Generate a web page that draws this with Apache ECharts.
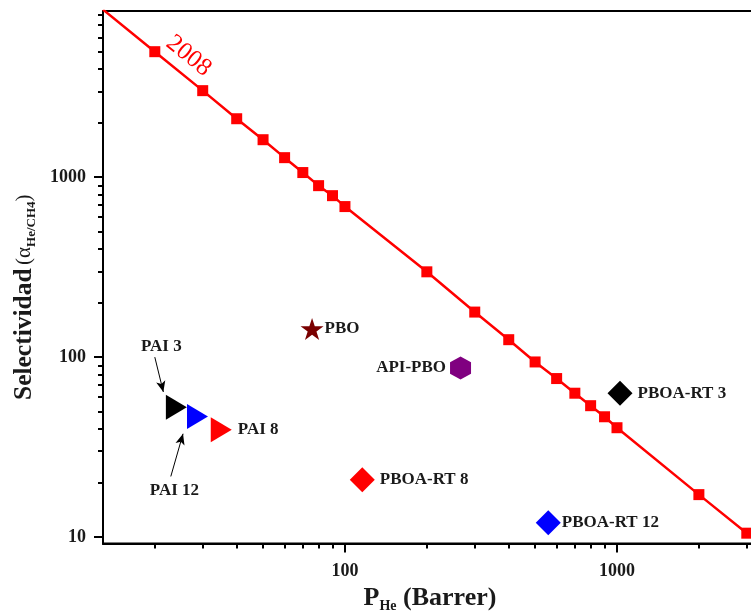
<!DOCTYPE html>
<html>
<head>
<meta charset="utf-8">
<script src="https://cdn.jsdelivr.net/npm/echarts@6/dist/echarts.min.js"></script>
<style>
  html, body { margin: 0; padding: 0; background: #fff; }
  #chart { width: 751px; height: 613px; }
</style>
</head>
<body>
<div id="chart"></div>
<script>
// Robeson 2008 upper bound for He/CH4 (permeability in Barrer, selectivity)
const boundPerm = [20, 30, 40, 50, 60, 70, 80, 90, 100, 200, 300, 400, 500, 600, 700, 800, 900, 1000, 2000, 3000];
const boundSel  = [4990, 3030, 2115, 1617, 1285, 1062, 898, 790, 687, 298, 178, 125, 94, 76, 63, 53.7, 46.6, 40.5, 17.2, 10.5];
// where the bound line meets the frame on each side
const boundEndPerm = [12.9, 3600];
const boundEndSel  = [8550, 8.4];

// membranes
const sampleNames = ['PBO', 'API-PBO', 'PBOA-RT 3', 'PBOA-RT 8', 'PBOA-RT 12', 'PAI 3', 'PAI 12', 'PAI 8'];
const samplePerm  = [75.7, 266, 1026, 115.8, 559, 24.0, 28.7, 35.1];
const sampleSel   = [143.5, 86.9, 63, 20.8, 12.0, 52.6, 46.8, 39.5];

// axis ticks
const xMajorTicks = [100, 1000];
const xMinorTicks = [20, 30, 40, 50, 60, 70, 80, 90, 200, 300, 400, 500, 600, 700, 800, 900, 2000, 3000];
const yMajorTicks = [10, 100, 1000];
const yMinorTicks = [20, 30, 40, 50, 60, 70, 80, 90, 200, 300, 400, 500, 600, 700, 800, 900,
                     2000, 3000, 4000, 5000, 6000, 7000, 8000];

// annotation arrows: [fromPerm, fromSel, toPerm, toSel]
const arrowPAI3  = [20.0, 100, 21.5, 64];
const arrowPAI12 = [22.9, 21.7, 25.4, 37.5];

const SERIF = '"Liberation Serif", "Times New Roman", serif';
const X_MIN = 12.9, X_MAX = 3500, Y_MIN = 9.2, Y_MAX = 8400;

const hexagon = 'path://M0,-1L0.866,-0.5L0.866,0.5L0,1L-0.866,0.5L-0.866,-0.5Z';
const star = 'path://M0,-1L0.2245,-0.309L0.9511,-0.309L0.3633,0.118L0.5878,0.809L0,0.382L-0.5878,0.809L-0.3633,0.118L-0.9511,-0.309L-0.2245,-0.309Z';

const sampleStyle = {
  'PBO':        { color: '#7a0000', symbol: star,       size: [23, 22], pos: 'right', dist: 1 },
  'API-PBO':    { color: '#800080', symbol: hexagon,    size: [21, 23], pos: 'left',  dist: 4 },
  'PBOA-RT 3':  { color: '#000000', symbol: 'diamond',  size: [25, 25], pos: 'right', dist: 5 },
  'PBOA-RT 8':  { color: '#ff0000', symbol: 'diamond',  size: [25, 25], pos: 'right', dist: 5 },
  'PBOA-RT 12': { color: '#0000ff', symbol: 'diamond',  size: [25, 25], pos: 'right', dist: 1 },
  'PAI 3':      { color: '#000000', symbol: 'triangle', size: [25, 21], rot: -90, pos: 'inside', offset: [-15, -61] },
  'PAI 12':     { color: '#0000ff', symbol: 'triangle', size: [25, 21], rot: -90, pos: 'inside', offset: [-23, 74] },
  'PAI 8':      { color: '#ff0000', symbol: 'triangle', size: [25, 21], rot: -90, pos: 'right', dist: 6 }
};

const labelFont = { fontFamily: SERIF, fontWeight: 'bold', fontSize: 17, color: '#1a1a1a' };

const boundData = [{ value: [boundEndPerm[0], boundEndSel[0]], symbol: 'none' }]
  .concat(boundPerm.map((p, i) => {
    const item = { value: [p, boundSel[i]] };
    if (i === 0) {
      // the year tag sits just above the line, following its slope
      item.label = {
        show: true, formatter: '2008', position: 'inside', offset: [29, -18], rotate: -39,
        fontFamily: SERIF, fontSize: 25, color: '#ff0000'
      };
    }
    return item;
  }))
  .concat([{ value: [boundEndPerm[1], boundEndSel[1]], symbol: 'none' }]);

const series = [{
  type: 'line',
  name: '2008',
  data: boundData,
  symbol: 'rect',
  symbolSize: 11,
  lineStyle: { color: '#ff0000', width: 2.5 },
  itemStyle: { color: '#ff0000', opacity: 1 },
  z: 3,
  animation: false
}];

sampleNames.forEach((n, i) => {
  const s = sampleStyle[n];
  const lbl = Object.assign({ show: true, formatter: n, position: s.pos }, labelFont);
  if (s.dist !== undefined) lbl.distance = s.dist;
  if (s.offset) lbl.offset = s.offset;
  const ser = {
    type: 'scatter',
    name: n,
    data: [[samplePerm[i], sampleSel[i]]],
    symbol: s.symbol,
    symbolSize: s.size,
    symbolRotate: s.rot || 0,
    itemStyle: { color: s.color, opacity: 1 },
    label: lbl,
    z: 4,
    animation: false
  };
  if (n === 'PAI 3' || n === 'PAI 12') {
    const a = n === 'PAI 3' ? arrowPAI3 : arrowPAI12;
    ser.markLine = {
      silent: true,
      animation: false,
      symbol: ['none', 'arrow'],
      symbolSize: [7, 11],
      lineStyle: { color: '#000', width: 1, type: 'solid', opacity: 1 },
      label: { show: false },
      data: [[{ coord: [a[0], a[1]] }, { coord: [a[2], a[3]] }]]
    };
  }
  series.push(ser);
});

const tickLabel = { fontFamily: SERIF, fontWeight: 'bold', fontSize: 18, color: '#1a1a1a' };

const option = {
  backgroundColor: '#fff',
  animation: false,
  grid: {
    left: 103, top: 11, width: 662, height: 532.5,
    containLabel: false,
    outerBoundsMode: 'none',
    show: true, borderColor: '#000', borderWidth: 2, backgroundColor: 'transparent'
  },
  xAxis: [{
    type: 'log', min: X_MIN, max: X_MAX, position: 'bottom',
    axisLine: { show: true, lineStyle: { color: '#000', width: 2 } },
    axisTick: { show: true, length: 9, lineStyle: { color: '#000', width: 2 }, customValues: xMajorTicks },
    axisLabel: Object.assign({ show: true, margin: 19, customValues: xMajorTicks, formatter: v => String(v) }, tickLabel),
    splitLine: { show: false },
    minorTick: { show: false },
    name: '{b|P}{s|He}{b| (Barrer)}',
    nameLocation: 'middle',
    nameGap: 35,
    nameTextStyle: {
      padding: [0, 8, 0, 0],
      rich: {
        b: { fontFamily: SERIF, fontWeight: 'bold', fontSize: 26, color: '#1a1a1a' },
        s: { fontFamily: SERIF, fontWeight: 'bold', fontSize: 14, color: '#1a1a1a', padding: [16, 0, 0, 0] }
      }
    }
  }, {
    type: 'log', min: X_MIN, max: X_MAX, position: 'bottom',
    axisLine: { show: false },
    axisTick: { show: true, length: 5, lineStyle: { color: '#000', width: 2 }, customValues: xMinorTicks },
    axisLabel: { show: false },
    splitLine: { show: false }
  }],
  yAxis: [{
    type: 'log', min: Y_MIN, max: Y_MAX, position: 'left',
    axisLine: { show: true, lineStyle: { color: '#000', width: 2 } },
    axisTick: { show: true, length: 9, lineStyle: { color: '#000', width: 2 }, customValues: yMajorTicks },
    axisLabel: Object.assign({ show: true, margin: 17, customValues: yMajorTicks, formatter: v => String(v) }, tickLabel),
    splitLine: { show: false },
    name: '{b|Selectividad} {n|(α}{s|He/CH4}{n|)}',
    nameLocation: 'middle',
    nameRotate: 90,
    nameGap: 65,
    nameTextStyle: {
      padding: [0, 40, 0, 0],
      rich: {
        b: { fontFamily: SERIF, fontWeight: 'bold', fontSize: 25.5, color: '#1a1a1a' },
        n: { fontFamily: SERIF, fontSize: 21, color: '#1a1a1a' },
        s: { fontFamily: SERIF, fontWeight: 'bold', fontSize: 13, color: '#1a1a1a', padding: [14, 0, 0, 0] }
      }
    }
  }, {
    type: 'log', min: Y_MIN, max: Y_MAX, position: 'left',
    axisLine: { show: false },
    axisTick: { show: true, length: 5, lineStyle: { color: '#000', width: 2 }, customValues: yMinorTicks },
    axisLabel: { show: false },
    splitLine: { show: false }
  }],
  series: series
};

const chart = echarts.init(document.getElementById('chart'), null, { renderer: 'canvas' });
chart.setOption(option);
</script>
</body>
</html>
